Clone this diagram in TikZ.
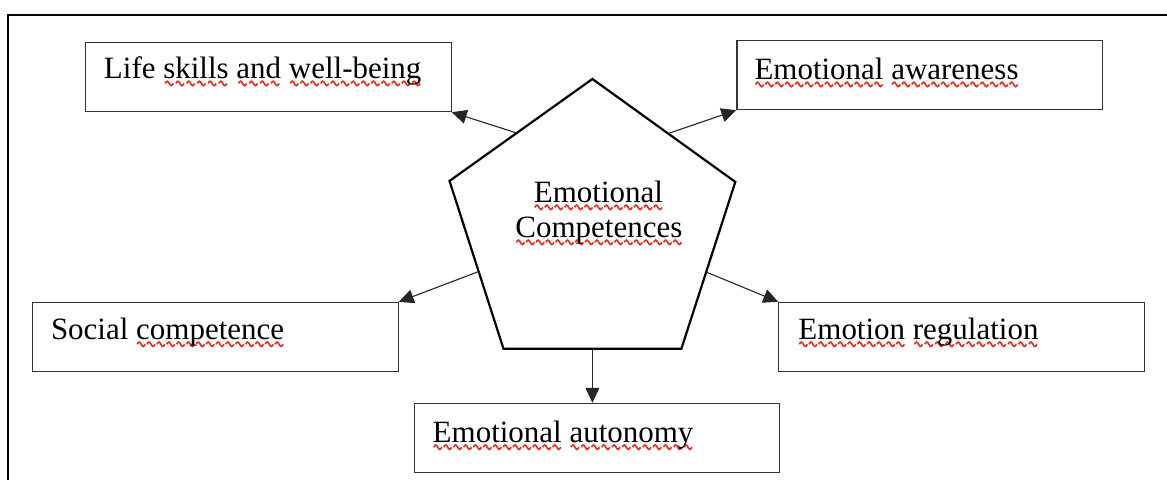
\documentclass[tikz,border=0pt]{standalone}
\usepackage{fontspec}
\setmainfont{Liberation Serif}
\usetikzlibrary{arrows.meta,calc}
\definecolor{sq}{RGB}{225,50,38}
\newsavebox\wavebox
\newsavebox\wordbox
\newcommand\wv[1]{\sbox\wordbox{#1}\rlap{\lower7.5pt\hbox to\wd\wordbox{\xleaders\copy\wavebox\hfil}}\usebox\wordbox}
\begin{document}
\begin{tikzpicture}[x=1pt,y=-1pt,
  box/.style={draw=black!80,line width=1.2pt,minimum width=366pt,minimum height=69pt,inner sep=0pt,anchor=north west},
  lbl/.style={anchor=base west,inner sep=0pt,font=\fontsize{31}{36}\selectfont},
  ctr/.style={anchor=base,inner sep=0pt,font=\fontsize{31}{36}\selectfont},
  conn/.style={draw=black!85,line width=1.1pt,-{Triangle[length=15pt,width=14pt]}},
  pent/.style={draw=black,line width=2.2pt,line join=miter},
  frame/.style={draw=black,line width=2.2pt}]
\sbox\wavebox{\tikz[x=1pt,y=1pt]\draw[sq,line width=1.7pt] (0,0) sin (2,2.2) cos (4,0) sin (6,-2.2) cos (8,0);}
\useasboundingbox (0,0) rectangle (1167,477);
% frame
\coordinate (fbl) at (7,477);
\coordinate (ftl) at (7,12);
\coordinate (ftr) at (1167,12);
\draw[frame] (fbl) -- (ftl) -- (ftr);
% pentagon
\coordinate (pt) at (592,76);
\coordinate (pr) at (735,179);
\coordinate (pbr) at (681,346);
\coordinate (pbl) at (503,346);
\coordinate (pl) at (449,178);
\draw[pent] (pt) -- (pr) -- (pbr) -- (pbl) -- (pl) -- cycle;
\node[ctr] (ec1) at (598,200) {\wv{Emotional}};
\node[ctr] (ec2) at (598.5,235) {\wv{Competences}};
% boxes
\node[box] (life) at (84,39) {};
\node[box] (aware) at (736,37) {};
\node[box] (social) at (31,299) {};
\node[box] (reg) at (778,299) {};
\node[box] (auto) at (413,400) {};
\node[lbl] (lifet) at ([shift={(19,37)}]life.north west) {Life \wv{skills} \wv{and} \wv{well-being}};
\node[lbl] (awaret) at ([shift={(18,40)}]aware.north west) {\wv{Emotional} \wv{awareness}};
\node[lbl] (socialt) at ([shift={(19,38)}]social.north west) {Social \wv{competence}};
\node[lbl] (regt) at ([shift={(20,38)}]reg.north west) {\wv{Emotion} \wv{regulation}};
\node[lbl] (autot) at ([shift={(19,40)}]auto.north west) {\wv{Emotional} \wv{autonomy}};
% connectors
\coordinate (s1) at ($(pl)!0.47!(pt)$);
\coordinate (s2) at ($(pt)!0.53!(pr)$);
\coordinate (s3) at ($(pl)!0.54!(pbl)$);
\coordinate (s4) at ($(pr)!0.54!(pbr)$);
\coordinate (s5) at ($(pbl)!0.5!(pbr)$);
\draw[conn] (s1) -- (life.south east);
\draw[conn] (s2) -- (aware.south west);
\draw[conn] (s3) -- (social.north east);
\draw[conn] (s4) -- (reg.north west);
\draw[conn] (s5) -- (s5 |- auto.north);
\end{tikzpicture}
\end{document}
